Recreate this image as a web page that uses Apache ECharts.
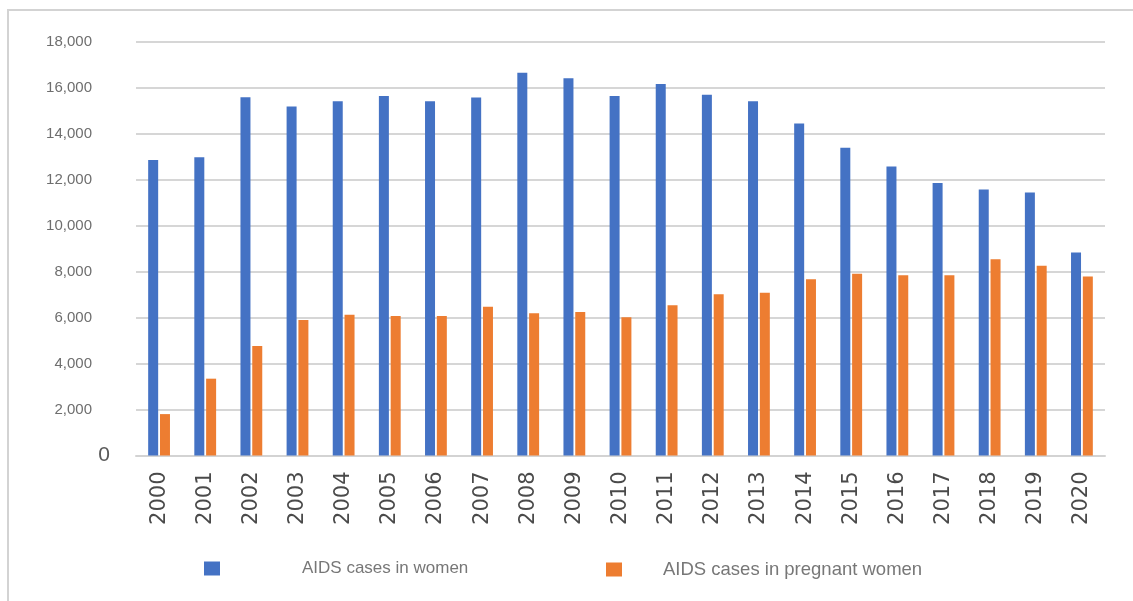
<!DOCTYPE html>
<html>
<head>
<meta charset="utf-8">
<style>
  html, body { margin: 0; padding: 0; background: #ffffff; }
  #chart { width: 1133px; height: 601px; }
</style>
<script src="https://cdn.jsdelivr.net/npm/echarts@6/dist/echarts.min.js"></script>
</head>
<body>
<div id="chart"></div>
<script>
var years = ['2000','2001','2002','2003','2004','2005','2006','2007','2008','2009','2010',
             '2011','2012','2013','2014','2015','2016','2017','2018','2019','2020'];
var womenCases = [12850, 12970, 15580, 15170, 15400, 15630, 15400, 15560, 16640, 16400, 15630,
                  16150, 15690, 15400, 14440, 13380, 12560, 11850, 11560, 11440, 8830];
var pregnantCases = [1800, 3340, 4760, 5890, 6120, 6060, 6060, 6470, 6180, 6240, 6010,
                     6530, 7010, 7080, 7660, 7900, 7840, 7840, 8530, 8250, 7780];
var seriesNames = ['AIDS cases in women', 'AIDS cases in pregnant women'];
var yMax = 18000;
var yStep = 2000;

var chart = echarts.init(document.getElementById('chart'), null, { renderer: 'canvas' });
var option = {
  backgroundColor: '#ffffff',
  animation: false,
  graphic: [{
    type: 'rect',
    silent: true,
    shape: { x: 8, y: 10, width: 1300, height: 800 },
    style: { fill: 'none', stroke: '#d3d3d3', lineWidth: 2 },
    z: -10
  }],
  legend: [{
    data: [seriesNames[0]],
    left: 204, top: 560, padding: 0,
    itemWidth: 16, itemHeight: 14,
    icon: 'rect',
    textStyle: { fontFamily: 'Liberation Sans', fontSize: 17, color: '#777777', padding: [0, 0, 0, 77] }
  }, {
    data: [seriesNames[1]],
    left: 606, top: 560, padding: 0,
    itemWidth: 16, itemHeight: 14,
    icon: 'rect',
    textStyle: { fontFamily: 'Liberation Sans', fontSize: 18.5, color: '#777777', padding: [0, 0, 0, 36] }
  }],
  grid: { left: 136, right: 28, top: 41.5, bottom: 145.5, containLabel: false },
  xAxis: {
    type: 'category',
    data: years,
    axisLine: { show: true, lineStyle: { color: '#d3d3d3', width: 2 } },
    axisTick: { show: false },
    axisLabel: {
      rotate: 90,
      margin: 16,
      interval: 0,
      fontFamily: 'DejaVu Sans',
      fontSize: 21,
      color: '#4a4a4a'
    }
  },
  yAxis: {
    type: 'value',
    min: 0,
    max: yMax,
    interval: yStep,
    axisLine: { show: false },
    axisTick: { show: false },
    splitLine: { lineStyle: { color: '#d6d6d6', width: 2 } },
    axisLabel: {
      margin: 26,
      formatter: function (v) {
        if (v === 0) return '{z|0}';
        return '{n|' + v.toLocaleString('en-US') + '}';
      },
      rich: {
        z: { fontFamily: 'Liberation Sans', fontSize: 21, color: '#595959' },
        n: { fontFamily: 'Liberation Sans', fontSize: 15, color: '#6e6e6e', padding: [0, 18, 0, 0] }
      }
    }
  },
  series: [{
    name: seriesNames[0],
    type: 'bar',
    data: womenCases,
    barWidth: 10,
    barGap: '18%',
    itemStyle: { color: '#4472C4' }
  }, {
    name: seriesNames[1],
    type: 'bar',
    data: pregnantCases,
    barWidth: 10,
    barGap: '18%',
    itemStyle: { color: '#ED7D31' }
  }]
};
chart.setOption(option);
</script>
</body>
</html>
